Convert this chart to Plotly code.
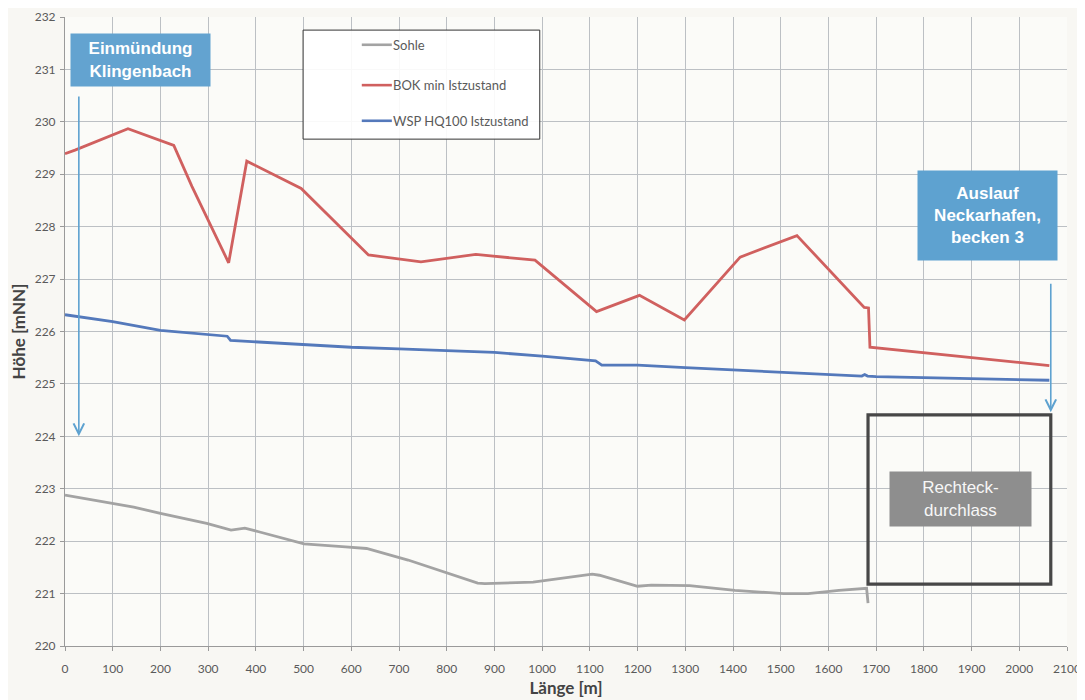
import plotly.graph_objects as go

# ---- data ----
sohle_x = [0, 100, 144, 200, 297, 348, 377, 406, 501, 588, 632, 719, 792, 865, 880, 981,
           1105, 1120, 1200, 1229, 1309, 1404, 1506, 1557, 1622, 1680, 1683]
sohle_y = [222.88, 222.72, 222.65, 222.53, 222.34, 222.21, 222.25, 222.18, 221.95, 221.89,
           221.86, 221.64, 221.42, 221.20, 221.19, 221.22, 221.37, 221.35, 221.14, 221.16,
           221.15, 221.06, 221.00, 221.00, 221.06, 221.10, 220.82]

bok_x = [0, 21, 132, 228, 266, 343, 381, 495, 636, 746, 861, 985, 1114, 1204, 1298,
         1415, 1534, 1675, 1684, 1687, 2063]
bok_y = [229.39, 229.46, 229.87, 229.55, 228.77, 227.31, 229.25, 228.73, 227.46, 227.33,
         227.47, 227.36, 226.38, 226.69, 226.22, 227.42, 227.83, 226.46, 226.45, 225.70, 225.35]

wsp_x = [0, 22, 100, 200, 300, 340, 347, 400, 500, 600, 700, 800, 900, 1000, 1100, 1112,
         1125, 1200, 1300, 1400, 1500, 1600, 1670, 1676, 1682, 1700, 1800, 1900, 2000, 2063]
wsp_y = [226.32, 226.29, 226.19, 226.02, 225.95, 225.91, 225.83, 225.80, 225.75, 225.70,
         225.67, 225.64, 225.60, 225.53, 225.46, 225.44, 225.36, 225.36, 225.31, 225.27,
         225.22, 225.18, 225.15, 225.18, 225.15, 225.14, 225.12, 225.10, 225.09, 225.07]

series_names = ["Sohle", "BOK min Istzustand", "WSP HQ100 Istzustand"]
series_colors = ["#a3a3a3", "#d0605f", "#5479bb"]

x_ticks = list(range(0, 2101, 100))
y_ticks = list(range(220, 233, 1))

fig = go.Figure()
for xs, ys, name, col in zip([sohle_x, bok_x, wsp_x], [sohle_y, bok_y, wsp_y],
                             series_names, series_colors):
    fig.add_trace(go.Scatter(x=xs, y=ys, mode="lines", name=name,
                             line=dict(color=col, width=2.8), showlegend=False))

# ---- manual legend (box, samples, labels) ----
fig.add_shape(type="rect", xref="x", yref="y", x0=499, x1=995, y0=229.67, y1=231.75,
              line=dict(color="#333333", width=1), fillcolor="rgba(255,255,255,0.9)")
leg_rows = [231.47, 230.70, 230.02]
for yy, name, col in zip(leg_rows, series_names, series_colors):
    fig.add_shape(type="line", xref="x", yref="y", x0=622, x1=685, y0=yy, y1=yy,
                  line=dict(color=col, width=2.6))
    fig.add_annotation(x=687, y=yy, xref="x", yref="y", text=name, showarrow=False,
                       xanchor="left", yanchor="middle", xshift=-2,
                       font=dict(family="Lato, Open Sans, sans-serif", size=13, color="#5a5a5a"))

# ---- Rechteckdurchlass frame ----
fig.add_shape(type="rect", xref="x", yref="y", x0=1683, x1=2066, y0=221.18, y1=224.41,
              line=dict(color="#474747", width=3.2))

box_font_b = dict(family="Liberation Sans, Arial, sans-serif", size=17, color="white")

fig.add_annotation(x=159, y=231.18, xref="x", yref="y",
                   text="<b>Einmündung<br>Klingenbach</b>", showarrow=False,
                   bgcolor="#63a3d0", width=137, height=50, font=box_font_b, align="center")
fig.add_annotation(x=1934, y=228.22, xref="x", yref="y",
                   text="<b>Auslauf<br>Neckarhafen,<br>becken 3</b>", showarrow=False,
                   bgcolor="#5ea2d0", width=137, height=87, font=box_font_b, align="center")
fig.add_annotation(x=1876, y=222.80, xref="x", yref="y",
                   text="Rechteck-<br>durchlass", showarrow=False,
                   bgcolor="#8e8e8e", width=139, height=52,
                   font=dict(family="Liberation Sans, Arial, sans-serif", size=17, color="#f7f7f7"),
                   align="center")

# ---- arrows ----
fig.add_annotation(x=29, y=224.0, ax=29, ay=230.51, xref="x", yref="y", axref="x", ayref="y",
                   text="", showarrow=True, arrowhead=5, arrowsize=1.3, arrowwidth=1.6,
                   arrowcolor="#5ea2d0")
fig.add_annotation(x=2066, y=224.46, ax=2066, ay=226.94, xref="x", yref="y", axref="x", ayref="y",
                   text="", showarrow=True, arrowhead=5, arrowsize=1.3, arrowwidth=1.6,
                   arrowcolor="#5ea2d0")

tick_font = dict(family="Lato, Open Sans, sans-serif", size=12, color="#5a5a5a")
title_font = dict(family="Lato, Open Sans, sans-serif", size=17, color="#444444")

fig.update_xaxes(range=[0, 2100], tickmode="array", tickvals=x_ticks, automargin=False,
                 ticktext=[str(v) for v in x_ticks], showgrid=True, gridcolor="#bcc0c4",
                 gridwidth=1, zeroline=False, showline=True, linecolor="#9a9a9a",
                 ticks="outside", ticklen=4, tickcolor="#9a9a9a", tickfont=tick_font,
                 ticklabelstandoff=8,
                 title=dict(text="<b>Länge [m]</b>", font=title_font, standoff=6))
fig.update_yaxes(range=[220, 232], tickmode="array", tickvals=y_ticks, automargin=False,
                 ticktext=[str(v) for v in y_ticks], showgrid=True, gridcolor="#bcc0c4",
                 gridwidth=1, zeroline=False, showline=True, linecolor="#9a9a9a",
                 ticks="outside", ticklen=4, tickcolor="#9a9a9a", tickfont=tick_font,
                 ticklabelstandoff=2,
                 title=dict(text="<b>Höhe [mNN]</b>", font=title_font, standoff=6))

fig.update_layout(width=1085, height=700, margin=dict(l=57, r=26, t=9, b=62),
                  plot_bgcolor="#fbfbf8", paper_bgcolor="#f8f7f3", showlegend=False)

fig.write_html("out.html")
